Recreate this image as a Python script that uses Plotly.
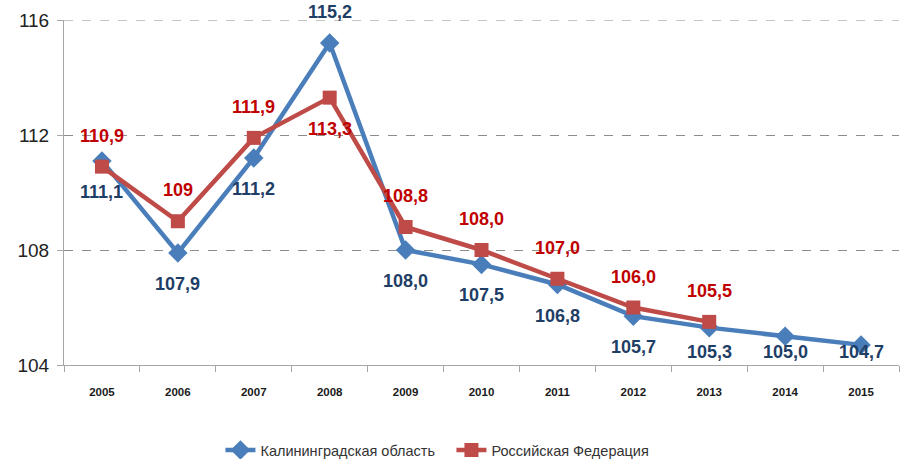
import plotly.graph_objects as go

years = ["2005", "2006", "2007", "2008", "2009", "2010", "2011", "2012", "2013", "2014", "2015"]
kalin = [111.1, 107.9, 111.2, 115.2, 108.0, 107.5, 106.8, 105.7, 105.3, 105.0, 104.7]
kalin_labels = ["111,1", "107,9", "111,2", "115,2", "108,0", "107,5", "106,8", "105,7", "105,3", "105,0", "104,7"]
rf = [110.9, 109.0, 111.9, 113.3, 108.8, 108.0, 107.0, 106.0, 105.5, None, None]
rf_labels = ["110,9", "109", "111,9", "113,3", "108,8", "108,0", "107,0", "106,0", "105,5", "", ""]

# label placement: +1 above, -1 below
kalin_side = [-1, -1, -1, 1, -1, -1, -1, -1, -1, -1, -1]
rf_side = [1, 1, 1, -1, 1, 1, 1, 1, 1, 1, 1]

BLUE = "#4A7EBB"
RED = "#BE4B48"
BLUE_TXT = "#1F3E66"
RED_TXT = "#C00000"
FONT = "Liberation Sans, Arial, sans-serif"

W, H = 902, 459
ML, MR, MT, MB = 64, 3, 20, 94
YMIN, YMAX = 104, 116
ph = H - MT - MB
ppu = ph / (YMAX - YMIN)

fig = go.Figure()
fig.add_trace(go.Scatter(
    x=years, y=kalin, mode="lines+markers", name="Калининградская область",
    line=dict(color=BLUE, width=4.5),
    marker=dict(symbol="diamond", size=15, color=BLUE),
    cliponaxis=False,
))
fig.add_trace(go.Scatter(
    x=years, y=rf, mode="lines+markers", name="Российская Федерация",
    line=dict(color=RED, width=4.5),
    marker=dict(symbol="square", size=14, color=RED),
    cliponaxis=False,
))

OFF = 31
annotations = []
for vals, labels, sides, col in ((kalin, kalin_labels, kalin_side, BLUE_TXT), (rf, rf_labels, rf_side, RED_TXT)):
    for i, (v, t, s) in enumerate(zip(vals, labels, sides)):
        if v is None:
            continue
        shift = OFF * s
        px_from_bottom = (v - YMIN) * ppu
        if s < 0 and px_from_bottom + shift < 13:
            shift = 13 - px_from_bottom
        annotations.append(dict(
            x=i, y=v, xref="x", yref="y", text="<b>%s</b>" % t, showarrow=False,
            yshift=shift, xanchor="center", yanchor="middle",
            font=dict(family=FONT, size=18, color=col),
        ))

# dashed gridline at the top of the value range
fig.add_shape(type="line", xref="paper", x0=0, x1=1, yref="y", y0=YMAX, y1=YMAX,
              line=dict(color="#8C8C8C", width=1, dash="dash"), layer="below")

fig.update_layout(
    width=W, height=H,
    margin=dict(l=ML, r=MR, t=MT, b=MB, autoexpand=False),
    paper_bgcolor="white", plot_bgcolor="white",
    showlegend=True,
    annotations=annotations,
    legend=dict(orientation="h", x=0.464, xanchor="center", y=-0.2, yanchor="top",
                font=dict(family=FONT, size=14.5, color="#333333"),
                itemwidth=30, entrywidth=186, entrywidthmode="pixels"),
    xaxis=dict(
        type="category", showgrid=False, showline=True, linecolor="#A6A6A6", linewidth=1,
        ticks="outside", ticklen=6, tickcolor="#A6A6A6", tickson="boundaries",
        tickfont=dict(family=FONT, size=11.5, color="#1a1a1a", weight="bold"),
        ticklabelstandoff=16,
        range=[-0.5, 10.5], automargin=False,
    ),
    yaxis=dict(
        range=[YMIN, YMAX], dtick=4, tick0=104, showgrid=True, gridcolor="#8C8C8C",
        griddash="dash", gridwidth=1, showline=True, linecolor="#A6A6A6", linewidth=1,
        ticks="outside", ticklen=6, tickcolor="#A6A6A6", zeroline=False, automargin=False,
        ticklabelstandoff=4,
        tickfont=dict(family=FONT, size=19, color="#222222"),
    ),
)

fig.write_html("out.html", config={"displayModeBar": False},
               post_script="document.body.style.margin='0';document.body.style.overflow='hidden';")
